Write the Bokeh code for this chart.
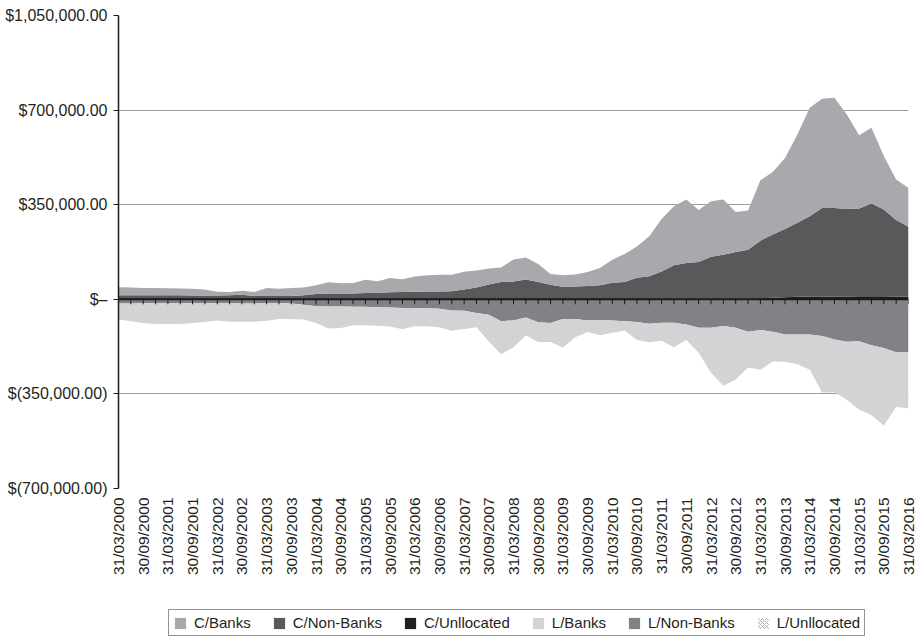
import math
from bokeh.plotting import figure
from bokeh.layouts import column
from bokeh.models import (ColumnDataSource, Range1d, FixedTicker, Span, Legend,
                          LegendItem)
from bokeh.transform import stack
from bokeh.embed import file_html
from bokeh.resources import INLINE

# ---------------- data ----------------
quarter_index = list(range(65))  # 31/03/2000 ... 31/03/2016, quarterly

x_tick_labels = [
    "31/03/2000", "30/09/2000", "31/03/2001", "30/09/2001", "31/03/2002",
    "30/09/2002", "31/03/2003", "30/09/2003", "31/03/2004", "30/09/2004",
    "31/03/2005", "30/09/2005", "31/03/2006", "30/09/2006", "31/03/2007",
    "30/09/2007", "31/03/2008", "30/09/2008", "31/03/2009", "30/09/2009",
    "31/03/2010", "30/09/2010", "31/03/2011", "30/09/2011", "31/03/2012",
    "30/09/2012", "31/03/2013", "30/09/2013", "31/03/2014", "30/09/2014",
    "31/03/2015", "30/09/2015", "31/03/2016",
]

y_ticks = [-700000, -350000, 0, 350000, 700000, 1050000]
y_tick_labels = ["$(700,000.00)", "$(350,000.00)", "$\u2013", "$350,000.00",
                 "$700,000.00", "$1,050,000.00"]

c_banks = [30000, 29000, 27000, 27000, 26000, 25000, 25000, 22000, 14000, 12000,
           15000, 15000, 30000, 27000, 30000, 29000, 32000, 42000, 38000, 39000,
           49000, 44000, 53000, 47000, 56000, 60000, 62000, 61000, 66000, 63000,
           59000, 54000, 81000, 82000, 67000, 40000, 43000, 45000, 52000, 64000,
           85000, 104000, 115000, 148000, 194000, 218000, 235000, 192000, 206000, 204000,
           148000, 146000, 223000, 231000, 263000, 327000, 402000, 404000, 408000, 350000,
           271000, 281000, 198000, 150000, 144000]

c_nonbanks = [14000, 14000, 14000, 14000, 14000, 14000, 13000, 13000, 13000, 14000,
              16000, 11000, 11000, 11000, 11000, 14000, 19000, 20000, 20000, 20000,
              22000, 22000, 25000, 26000, 27000, 28000, 28000, 29000, 35000, 43000,
              54000, 63000, 65000, 72000, 63000, 53000, 45000, 46000, 48000, 51000,
              60000, 63000, 79000, 84000, 101000, 124000, 132000, 136000, 154000, 162000,
              172000, 180000, 213000, 234000, 252000, 274000, 297000, 328000, 328000, 324000,
              325000, 343000, 321000, 283000, 258000]

c_unalloc = [1000, 1000, 1000, 1000, 1000, 1000, 1000, 1000, 1000, 1000,
             1000, 1000, 1000, 1000, 1000, 1000, 1000, 1000, 1000, 1000,
             1000, 1000, 1000, 1000, 1000, 1000, 1000, 1000, 1000, 1000,
             1000, 1000, 1000, 1000, 1000, 1000, 1000, 1000, 1000, 1000,
             1000, 1000, 1000, 1000, 2000, 2000, 2000, 2000, 3000, 3000,
             3000, 3000, 4000, 6000, 8000, 9000, 10000, 10000, 10000, 10000,
             11000, 11000, 11000, 10000, 10000]

l_banks = [-59000, -65000, -73000, -76000, -76000, -77000, -74000, -70000, -63000, -68000,
           -67000, -67000, -64000, -58000, -57000, -55000, -62000, -81000, -79000, -68000,
           -68000, -69000, -71000, -79000, -68000, -67000, -68000, -75000, -68000, -52000,
           -99000, -122000, -99000, -66000, -73000, -70000, -105000, -67000, -43000, -56000,
           -46000, -34000, -67000, -69000, -66000, -90000, -58000, -93000, -167000, -221000,
           -192000, -132000, -147000, -110000, -101000, -110000, -131000, -209000, -195000, -215000,
           -254000, -258000, -288000, -202000, -208000]

l_nonbanks = [-16000, -16000, -15000, -15000, -15000, -14000, -14000, -14000, -15000, -15000,
              -16000, -16000, -15000, -15000, -16000, -20000, -26000, -27000, -27000, -28000,
              -28000, -29000, -30000, -32000, -32000, -33000, -35000, -41000, -42000, -51000,
              -57000, -81000, -78000, -67000, -85000, -88000, -73000, -73000, -78000, -77000,
              -78000, -81000, -84000, -90000, -87000, -87000, -93000, -105000, -105000, -99000,
              -105000, -120000, -114000, -120000, -130000, -130000, -130000, -136000, -149000, -157000,
              -155000, -170000, -180000, -196000, -196000]

l_unalloc = [0, 0, 0, 0, 0, 0, 0, 0, 0, 0,
             0, 0, 0, 0, 0, 0, 0, 0, 0, 0,
             0, 0, 0, 0, 0, 0, 0, 0, 0, 0,
             0, 0, 0, 0, 0, 0, 0, 0, 0, 0,
             0, 0, 0, 0, 0, 0, 0, 0, 0, 0,
             0, 0, 0, 0, 0, 0, 0, 0, 0, 0,
             0, 0, 0, 0, 0]

series_names = ["C/Banks", "C/Non-Banks", "C/Unllocated",
                "L/Banks", "L/Non-Banks", "L/Unllocated"]

# ---------------- styling ----------------
FONT = "Liberation Sans"
TXT = "#231f20"
col_c_banks = "#a7a9ac"
col_c_nonbanks = "#58595b"
col_c_unalloc = "#231f20"
col_l_banks = "#d1d3d4"
col_l_nonbanks = "#808285"
hatch_kw = dict(hatch_pattern="diagonal_cross", hatch_color="#b5b5b5",
                hatch_scale=4, hatch_weight=1)

src = ColumnDataSource(dict(
    x=quarter_index, c_banks=c_banks, c_nonbanks=c_nonbanks, c_unalloc=c_unalloc,
    l_banks=l_banks, l_nonbanks=l_nonbanks, l_unalloc=l_unalloc,
))

p = figure(width=918, height=600, output_backend="svg", toolbar_location=None,
           x_range=Range1d(quarter_index[0], quarter_index[-1]),
           y_range=Range1d(y_ticks[0], y_ticks[-1]),
           min_border_left=118, min_border_right=10, min_border_top=15,
           min_border_bottom=112)
p.outline_line_color = None
p.background_fill_color = "white"
p.border_fill_color = "white"

# positive stack (upwards)
p.varea(x="x", y1=0, y2=stack("c_unalloc"), source=src, fill_color=col_c_unalloc)
p.varea(x="x", y1=stack("c_unalloc"), y2=stack("c_unalloc", "c_nonbanks"),
        source=src, fill_color=col_c_nonbanks)
p.varea(x="x", y1=stack("c_unalloc", "c_nonbanks"),
        y2=stack("c_unalloc", "c_nonbanks", "c_banks"), source=src,
        fill_color=col_c_banks)
# negative stack (downwards)
p.varea(x="x", y1=0, y2=stack("l_unalloc"), source=src, fill_color="white", **hatch_kw)
p.varea(x="x", y1=stack("l_unalloc"), y2=stack("l_unalloc", "l_nonbanks"),
        source=src, fill_color=col_l_nonbanks)
p.varea(x="x", y1=stack("l_unalloc", "l_nonbanks"),
        y2=stack("l_unalloc", "l_nonbanks", "l_banks"), source=src,
        fill_color=col_l_banks)

# category axis line at zero with quarterly tick marks
p.add_layout(Span(location=0, dimension="width", line_color="#1a1a1a", line_width=2))
p.ray(x="x", y=0, length=5, length_units="screen", angle=-math.pi / 2,
      source=src, line_color="#1a1a1a", line_width=1)

# y axis
p.yaxis.ticker = FixedTicker(ticks=y_ticks)
p.yaxis.major_label_overrides = dict(zip(y_ticks, y_tick_labels))
p.yaxis.axis_line_color = "#1a1a1a"
p.yaxis.axis_line_width = 1.5
p.yaxis.major_tick_line_color = "#1a1a1a"
p.yaxis.major_tick_out = 5
p.yaxis.major_tick_in = 0
p.yaxis.minor_tick_line_color = None
p.yaxis.major_label_standoff = 6
p.yaxis.major_label_text_font = FONT
p.yaxis.major_label_text_font_size = "16px"
p.yaxis.major_label_text_color = TXT

p.ygrid.ticker = FixedTicker(ticks=y_ticks)
p.ygrid.grid_line_color = "#9d9d9d"
p.ygrid.grid_line_width = 1
p.xgrid.grid_line_color = None

# x axis (labels at the bottom)
x_label_pos = quarter_index[::2]
p.xaxis.ticker = FixedTicker(ticks=x_label_pos)
p.xaxis.major_label_overrides = dict(zip(x_label_pos, x_tick_labels))
p.xaxis.major_label_orientation = math.pi / 2
p.xaxis.axis_line_color = None
p.xaxis.major_tick_line_color = None
p.xaxis.minor_tick_line_color = None
p.xaxis.major_tick_out = 0
p.xaxis.major_tick_in = 0
p.xaxis.major_label_standoff = 9
p.xaxis.major_label_text_font = FONT
p.xaxis.major_label_text_font_size = "15.5px"
p.xaxis.major_label_text_color = TXT

# ---------------- legend strip (separate small figure) ----------------
lg = figure(width=918, height=37, output_backend="svg", toolbar_location=None,
            x_range=Range1d(0, 1), y_range=Range1d(0, 1),
            x_axis_location=None, y_axis_location=None,
            min_border_left=0, min_border_right=0, min_border_top=0,
            min_border_bottom=0)
lg.outline_line_color = None
lg.xgrid.grid_line_color = None
lg.ygrid.grid_line_color = None
leg_fills = [dict(fill_color=col_c_banks), dict(fill_color=col_c_nonbanks),
             dict(fill_color=col_c_unalloc), dict(fill_color=col_l_banks),
             dict(fill_color=col_l_nonbanks), dict(fill_color="white", **hatch_kw)]
items = []
for name, kw in zip(series_names, leg_fills):
    # zero-height proxy areas (invisible) that only supply the legend swatches
    r = lg.varea(x="x", y1=0, y2=0, source=src, **kw)
    items.append(LegendItem(label=name, renderers=[r]))

legend = Legend(
    items=items,
    orientation="horizontal",
    location=(50, 1),
    label_text_font=FONT, label_text_font_size="15px", label_text_color=TXT,
    glyph_width=14, glyph_height=14, label_height=14, label_standoff=7,
    spacing=21, padding=4, margin=0,
    border_line_color="#2a2a2a", border_line_width=1.5,
    background_fill_color="white", background_fill_alpha=1,
)
lg.add_layout(legend, "center")

layout = column(p, lg, spacing=0)
open("out.html", "w").write(file_html(layout, INLINE))
